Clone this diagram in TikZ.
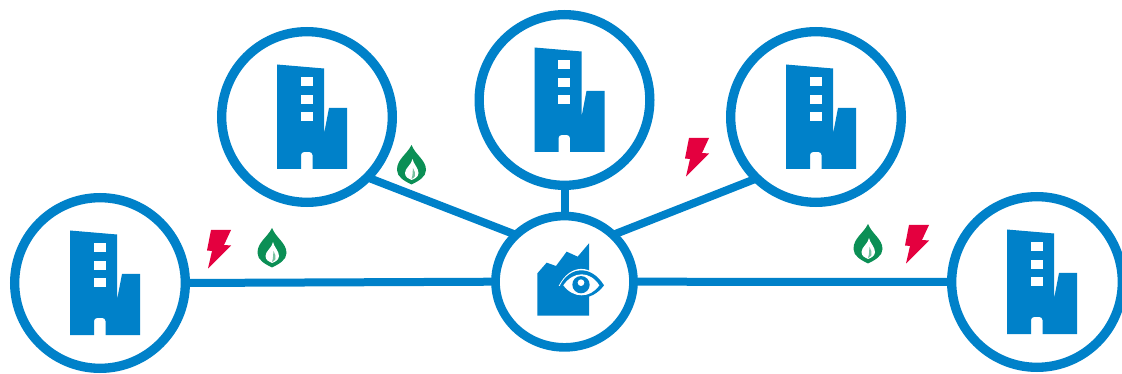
\documentclass[tikz,border=0pt]{standalone}
\usetikzlibrary{shapes.geometric}
\definecolor{hubblue}{HTML}{0081C9}
\definecolor{flamegreen}{HTML}{0B8F55}
\definecolor{boltred}{HTML}{E4003F}
\tikzset{
  x=0.75pt,y=-0.75pt,
  site/.style={circle,draw=hubblue,line width=7pt,minimum size=128pt,inner sep=0pt,outer sep=0pt,fill=white},
  hub/.style={ellipse,draw=hubblue,line width=6.5pt,minimum width=103.5pt,minimum height=98.5pt,inner sep=0pt,outer sep=0pt,fill=white},
  link/.style={draw=hubblue,line width=6pt},
  building/.pic={
    \fill[hubblue] (-30,-52.5) -- (17,-48.5) -- (17,17) -- (22,-9) -- (40,-9) -- (40,52) -- (5.5,52)
      -- (5.5,38) arc[start angle=0,end angle=-90,radius=3] -- (-3,35) arc[start angle=-90,end angle=-180,radius=3] -- (-6,52) -- (-30,52) -- cycle;
    \fill[white] (-6.3,-40) rectangle (5.7,-31);
    \fill[white] (-6.3,-22) rectangle (5.7,-13);
    \fill[white] (-6.3,-5) rectangle (5.7,4);
  },
  flame/.pic={
    \fill[flamegreen] (0,-20) .. controls (4,-10) and (14.5,-5) .. (14.5,5) .. controls (14.5,12) and (7,16) .. (0,19.5)
      .. controls (-7,16) and (-14.5,12) .. (-14.5,5) .. controls (-14.5,-6) and (-5,-10) .. (0,-20) -- cycle;
    \fill[white] (1,-6) .. controls (2,-1) and (7,3) .. (7,8) .. controls (7,12) and (3,14) .. (0,15)
      .. controls (-3,14) and (-6.5,12) .. (-6.5,8) .. controls (-6.5,3) and (0,0) .. (1,-6) -- cycle;
    \fill[flamegreen!55] (1.5,3) .. controls (3,6) and (4,8) .. (3.5,11) .. controls (3,12.5) and (1,13.5) .. (0,14) .. controls (1.5,10) and (1,6) .. (1.5,3) -- cycle;
  },
  bolt/.pic={
    \fill[boltred] (-8,-19) -- (12,-19) -- (5,-4) -- (12,-3.5) -- (-11,19.5) -- (-7,2) -- (-12,1.5) -- cycle;
  },
}
\begin{document}
\begin{tikzpicture}
\useasboundingbox (0,0) rectangle (1122,374);
\node[site] (west) at (100,283) {};
\node[site] (nw) at (307,117) {};
\node[site] (north) at (564.5,100) {};
\node[site] (ne) at (816,117) {};
\node[site] (east) at (1037,282) {};
\node[hub] (centre) at (564.5,281.7) {};
\draw[link] (west.0) -- (centre.180);
\draw[link] (centre.0) -- (east.180);
\draw[link] (north.south) -- (centre.north);
\draw[link] (nw.-45) -- (centre.136);
\draw[link] (ne.-134) -- (centre.44);
\foreach \n in {west,nw,north,ne,east} \pic at (\n) {building};
\begin{scope}[shift={(480,200)},x=0.25pt,y=-0.25pt]
  \fill[hubblue] (172,220) -- (200,188) -- (228,198) -- (260,155) -- (293,170) -- (327,130) -- (327,347) -- (172,347) -- cycle;
  \fill[white] (236,258) .. controls (270,190) and (335,190) .. (376,256) -- cycle;
  \fill[hubblue] (240,256) .. controls (272,196) and (335,196) .. (372,256) .. controls (335,306) and (272,306) .. (240,256) -- cycle;
  \fill[white] (250,256) .. controls (280,212) and (330,212) .. (358,256) .. controls (330,296) and (280,296) .. (250,256) -- cycle;
  \fill[hubblue] (303,254) circle[radius=26];
  \fill[white] (303,248) circle[radius=10];
\end{scope}
\pic at (411.5,165) {flame};
\pic at (272,248) {flame};
\pic at (868,244) {flame};
\pic at (219,249) {bolt};
\pic at (697,157) {bolt};
\pic at (917,244) {bolt};
\end{tikzpicture}
\end{document}
